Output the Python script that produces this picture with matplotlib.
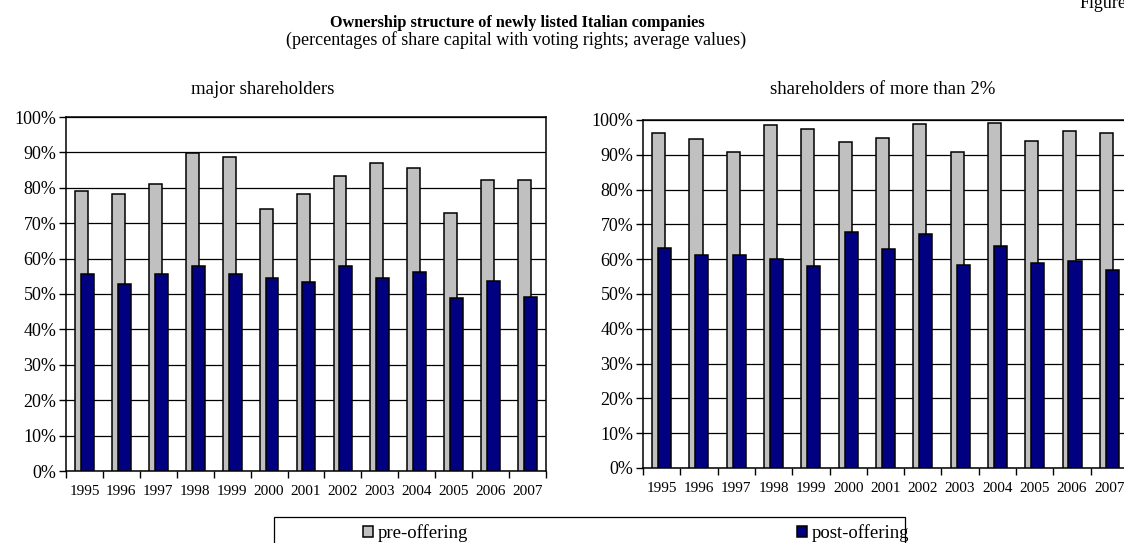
import matplotlib
matplotlib.use("Agg")
import matplotlib.pyplot as plt
from matplotlib.patches import Rectangle
import numpy as np

plt.rcParams['font.family'] = ['Liberation Serif', 'DejaVu Serif']

years = ["1995", "1996", "1997", "1998", "1999", "2000", "2001",
         "2002", "2003", "2004", "2005", "2006", "2007"]

# major shareholders (%)
major_pre = [79.0, 78.2, 81.1, 89.7, 88.8, 73.9, 78.3, 83.3, 87.0, 85.5, 72.8, 82.3, 82.1]
major_post = [55.7, 52.8, 55.7, 57.8, 55.7, 54.5, 53.4, 57.8, 54.5, 56.1, 49.0, 53.8, 49.2]

# shareholders of more than 2% (%)
over2_pre = [96.3, 94.6, 90.8, 98.6, 97.3, 93.8, 94.7, 98.9, 90.8, 99.1, 93.9, 96.7, 96.4]
over2_post = [63.3, 61.1, 61.3, 60.1, 58.1, 67.9, 62.9, 67.3, 58.3, 63.8, 58.8, 59.4, 56.8]

series_labels = ["pre-offering", "post-offering"]
PRE_COLOR = "#C0C0C0"
POST_COLOR = "#000080"

W, H = 1124, 543
fig = plt.figure(figsize=(W / 100, H / 100), dpi=100)


def px_axes(x0, x1, ytop, ybot):
    return fig.add_axes([x0 / W, 1 - ybot / H, (x1 - x0) / W, (ybot - ytop) / H])


def draw_panel(ax, pre, post, title, title_x):
    x = np.arange(len(years))
    bw = 0.35
    b1 = ax.bar(x - 0.08, pre, bw, color=PRE_COLOR, edgecolor="black", linewidth=1.1, zorder=3)
    b2 = ax.bar(x + 0.08, post, bw, color=POST_COLOR, edgecolor="black", linewidth=1.1, zorder=4)
    ax.set_xlim(-0.5, len(years) - 0.5)
    ax.set_ylim(0, 100)
    ax.set_yticks(np.arange(0, 101, 10))
    ax.set_yticklabels([f"{v}%" for v in range(0, 101, 10)], fontsize=13)
    ax.yaxis.grid(True, color="black", linewidth=0.9, zorder=0)
    ax.set_axisbelow(True)
    ax.set_xticks(x)
    ax.set_xticklabels(years, fontsize=11)
    ax.set_xticks(np.arange(-0.5, len(years)), minor=True)
    ax.tick_params(axis="x", which="major", length=0, pad=10)
    ax.tick_params(axis="x", which="minor", length=5, width=1, direction="out")
    ax.tick_params(axis="y", length=5, width=1, direction="out", pad=2)
    for s in ax.spines.values():
        s.set_linewidth(1.1)
    fig.text(title_x / W, 1 - 89 / H, title, ha="center", va="center", fontsize=13.5)
    return b1, b2


axL = px_axes(66, 546, 117, 471)
bars = draw_panel(axL, major_pre, major_post, "major shareholders", 263)

axR = px_axes(643, 1128, 120, 468)
draw_panel(axR, over2_pre, over2_post, "shareholders of more than 2%", 883)

fig.text(517 / W, 1 - 23 / H, "Ownership structure of newly listed Italian companies",
         ha="center", va="center", fontsize=11.7, fontweight="bold")
fig.text(516 / W, 1 - 40 / H, "(percentages of share capital with voting rights; average values)",
         ha="center", va="center", fontsize=13)
fig.text(1080 / W, 1 - 3 / H, "Figure", ha="left", va="center", fontsize=13)

# legend box, running off the bottom edge
fig.patches.append(Rectangle((274 / W, -0.1), (905 - 274) / W, 0.1 + (543 - 516.5) / H,
                             transform=fig.transFigure, fill=False,
                             edgecolor="black", linewidth=0.9))
fig.legend(bars, series_labels, ncol=2, loc="center left",
           bbox_to_anchor=(363 / W, 1 - 533 / H), frameon=False, fontsize=13.5,
           handlelength=0.55, handleheight=0.55, handletextpad=0.25,
           columnspacing=17.5, borderpad=0, borderaxespad=0)

fig.savefig("out.png", dpi=100)
